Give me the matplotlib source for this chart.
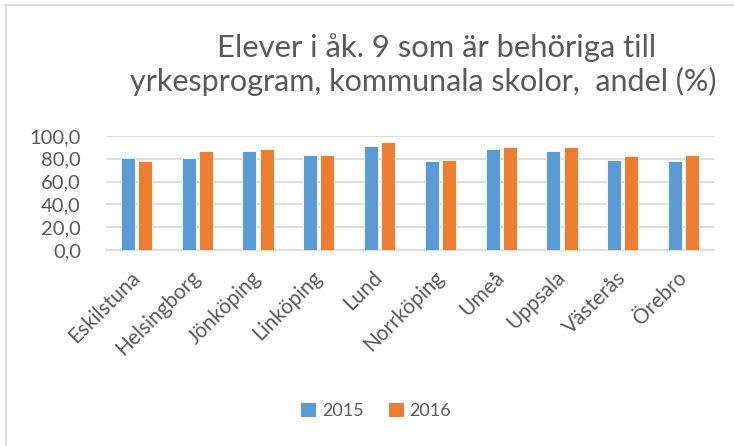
import matplotlib
matplotlib.use("Agg")
import matplotlib.pyplot as plt
import matplotlib.transforms as mtransforms
import numpy as np
from matplotlib.lines import Line2D
from matplotlib.patches import Patch

categories = ["Eskilstuna", "Helsingborg", "Jönköping", "Linköping", "Lund",
              "Norrköping", "Umeå", "Uppsala", "Västerås", "Örebro"]
values_2015 = [80.4, 80.4, 86.8, 83.3, 91.2, 78.0, 88.3, 86.5, 78.9, 78.3]
values_2016 = [78.0, 87.1, 88.6, 83.3, 94.4, 78.9, 90.3, 90.0, 82.1, 83.0]
yticks = [0, 20, 40, 60, 80, 100]
ytick_labels = ["0,0", "20,0", "40,0", "60,0", "80,0", "100,0"]
series_names = ["2015", "2016"]
title_lines = ["Elever i åk. 9 som är behöriga till",
               "yrkesprogram, kommunala skolor,  andel (%)"]

BLUE = "#5B9BD5"
ORANGE = "#ED7D31"
TXT = "#595959"
GRID = "#D9D9D9"
FONT = ["Lato", "DejaVu Sans"]

plt.rcParams["font.family"] = FONT

fig = plt.figure(figsize=(7.34, 4.46), dpi=100)
ax = fig.add_axes([106/734, 1-250/446, (714-106)/734, (250-136)/446])

x = np.arange(len(categories))
w = 0.23
off = 0.142
ax.bar(x - off, values_2015, w, color=BLUE, edgecolor="white", linewidth=0.6, zorder=3)
ax.bar(x + off, values_2016, w, color=ORANGE, edgecolor="white", linewidth=0.6, zorder=3)

ax.set_xlim(-0.5, len(categories) - 0.5)
ax.set_ylim(0, 100)
ax.set_yticks(yticks)
ax.set_yticklabels(ytick_labels, fontsize=14.5, color=TXT)
ax.set_xticks(x)
ax.set_xticklabels(categories, fontsize=15, color=TXT, rotation=45,
                   ha="right", rotation_mode="anchor")
ax.tick_params(axis="both", length=0)
ax.tick_params(axis="y", pad=18)
ax.tick_params(axis="x", pad=11)
shift = mtransforms.ScaledTranslation(-7/100, -2/100, fig.dpi_scale_trans)
for lab in ax.get_xticklabels():
    lab.set_transform(lab.get_transform() + shift)
ax.yaxis.grid(True, color=GRID, linewidth=1.2, zorder=0)
ax.set_axisbelow(True)
for s in ["top", "right", "left"]:
    ax.spines[s].set_visible(False)
ax.spines["bottom"].set_color(GRID)
ax.spines["bottom"].set_linewidth(1.2)

fig.text(437/734, 1-48/446, title_lines[0], ha="center", va="center", fontsize=22.3, color=TXT)
fig.text(423/734, 1-81/446, title_lines[1], ha="center", va="center", fontsize=22, color=TXT)

handles = [Patch(facecolor=BLUE), Patch(facecolor=ORANGE)]
fig.legend(handles, series_names, loc="center", bbox_to_anchor=(376/734, 1-411/446),
           ncol=2, frameon=False, fontsize=13, labelcolor=TXT,
           handlelength=0.85, handleheight=0.85, handletextpad=0.3, columnspacing=1.4)

# chart border (top and left visible)
fig.add_artist(Line2D([5/734, 1], [1-5/446, 1-5/446], color=GRID, linewidth=1.2, transform=fig.transFigure))
fig.add_artist(Line2D([5.5/734, 5.5/734], [0, 1-5/446], color=GRID, linewidth=1.2, transform=fig.transFigure))

fig.savefig("out.png", dpi=100)
